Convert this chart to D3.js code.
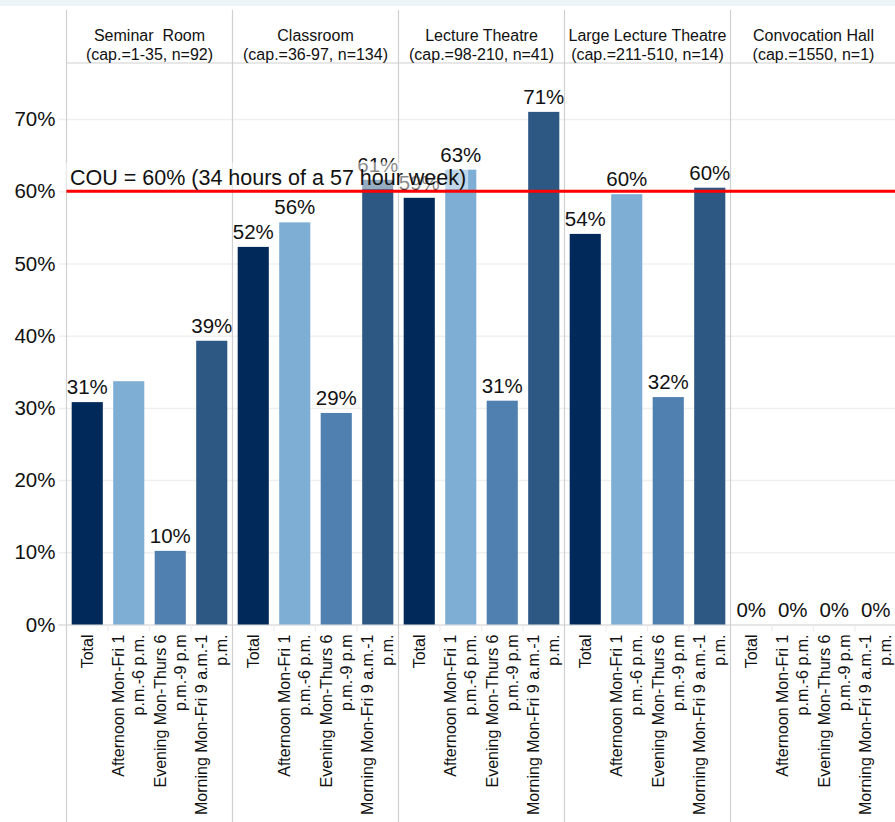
<!DOCTYPE html>
<html>
<head>
<meta charset="utf-8">
<script src="https://cdn.jsdelivr.net/npm/d3@7"></script>
<style>
  body { margin: 0; background: #fff; }
  svg { display: block; font-family: "Liberation Sans", Arial, sans-serif; }
</style>
</head>
<body>
<svg width="895" height="822"></svg>
<script>
// room types (panels)
let rooms = ["Seminar  Room", "Classroom", "Lecture Theatre", "Large Lecture Theatre", "Convocation Hall"]
let roomCaps = ["(cap.=1-35, n=92)", "(cap.=36-97, n=134)", "(cap.=98-210, n=41)", "(cap.=211-510, n=14)", "(cap.=1550, n=1)"]

// time periods (bars inside a panel)
let periods = ["Total", "Afternoon", "Evening", "Morning"]
let periodLabels = [
    ["Total"],
    ["Afternoon Mon-Fri 1", "p.m.-6 p.m."],
    ["Evening Mon-Thurs 6", "p.m.-9 p.m"],
    ["Morning Mon-Fri 9 a.m.-1", "p.m."]
]
let periodColors = ["#012a5b", "#7faed5", "#5080b0", "#2d5884"]

// utilization values, one row per room type
let seminarVals     = [0.308, 0.337, 0.102, 0.393]
let classroomVals   = [0.523, 0.557, 0.293, 0.616]
let lectureVals     = [0.591, 0.630, 0.310, 0.710]
let largeLectVals   = [0.541, 0.596, 0.315, 0.605]
let convocationVals = [0, 0, 0, 0]
let values = [seminarVals, classroomVals, lectureVals, largeLectVals, convocationVals]

// label shown above each bar (null = none shown)
let barLabels = [
    ["31%", null, "10%", "39%"],
    ["52%", "56%", "29%", "61%"],
    ["59%", "63%", "31%", "71%"],
    ["54%", "60%", "32%", "60%"],
    ["0%", "0%", "0%", "0%"]
]

let yTicks = [0, 0.1, 0.2, 0.3, 0.4, 0.5, 0.6, 0.7]
let couValue = 0.6
let couText = "COU = 60% (34 hours of a 57 hour week)"

let width = 895
let height = 822
let left = 66.5
let headerBottom = 63
let baseline = 624.5

let svg = d3.select("svg")

svg.append("rect")
    .attr("x", 0).attr("y", 0)
    .attr("width", width).attr("height", 6)
    .attr("fill", "#eef5f9")

let x0 = d3.scaleBand()
    .domain(rooms)
    .range([left, left + 166 * rooms.length])
    .padding(0)

let x1 = d3.scaleBand()
    .domain(periods)
    .range([0, x0.bandwidth()])
    .paddingInner(0.25)
    .paddingOuter(0.125)

let xTick = d3.scaleBand()
    .domain(periods)
    .range([0, x0.bandwidth()])

let y = d3.scaleLinear()
    .domain([0, 0.7])
    .range([baseline, baseline - 0.7 * 722])

// gridlines + y axis
let yAxis = d3.axisLeft(y)
    .tickValues(yTicks)
    .tickFormat(d3.format(".0%"))
    .tickSize(-(width - left + 8))
    .tickPadding(3)

let yAxisG = svg.append("g")
    .attr("class", "y axis")
    .attr("transform", `translate(${left - 8},0)`)
    .call(yAxis)

yAxisG.select(".domain").remove()
yAxisG.selectAll(".tick line")
    .attr("stroke", d => d == 0 ? "#dcdcdc" : "#f0f0f0")
    .attr("stroke-width", 1.5)
yAxisG.selectAll(".tick text")
    .attr("x", -3)
    .style("font-size", "20.5px")
    .style("fill", "#111")
    .style("font-family", "Liberation Sans, Arial, sans-serif")

// header line + panel separators
svg.append("line")
    .attr("x1", left).attr("x2", width)
    .attr("y1", headerBottom).attr("y2", headerBottom)
    .attr("stroke", "#d0d0d0")
    .attr("stroke-width", 1.2)

svg.selectAll(".sep")
    .data(rooms)
    .join("line")
    .attr("class", "sep")
    .attr("x1", d => x0(d)).attr("x2", d => x0(d))
    .attr("y1", 10).attr("y2", height)
    .attr("stroke", "#d0d0d0")
    .attr("stroke-width", 1.2)

// header text
let header = svg.selectAll(".header")
    .data(rooms)
    .join("text")
    .attr("class", "header")
    .attr("text-anchor", "middle")
    .style("font-size", "16px")
    .style("fill", "#111")

header.append("tspan")
    .attr("x", d => x0(d) + x0.bandwidth() / 2)
    .attr("y", 41)
    .style("white-space", "pre")
    .text(d => d)

header.append("tspan")
    .attr("x", d => x0(d) + x0.bandwidth() / 2)
    .attr("y", 60)
    .text((d, i) => roomCaps[i])

let panels = svg.selectAll(".panel")
    .data(rooms)
    .join("g")
    .attr("class", "panel")
    .attr("transform", d => `translate(${x0(d)},0)`)

// small x ticks between bars
panels.selectAll(".xtick")
    .data(periods.slice(1))
    .join("line")
    .attr("x1", d => xTick(d)).attr("x2", d => xTick(d))
    .attr("y1", baseline).attr("y2", baseline + 7)
    .attr("stroke", "#ececec")
    .attr("stroke-width", 1.2)

// bars
panels.selectAll(".bar")
    .data((room, i) => periods.map((p, j) => ({ period: p, value: values[i][j], color: periodColors[j] })))
    .join("rect")
    .attr("class", "bar")
    .attr("x", d => x1(d.period))
    .attr("width", x1.bandwidth())
    .attr("y", d => y(d.value))
    .attr("height", d => y(0) - y(d.value))
    .attr("fill", d => d.color)

// bar labels
panels.selectAll(".barlabel")
    .data((room, i) => periods.map((p, j) => ({ period: p, value: values[i][j], label: barLabels[i][j] })).filter(d => d.label))
    .join("text")
    .attr("class", "barlabel")
    .attr("x", d => x1(d.period) + x1.bandwidth() / 2)
    .attr("y", d => y(d.value) - 8)
    .attr("text-anchor", "middle")
    .style("font-size", "20.5px")
    .style("fill", "#111")
    .text(d => d.label)

// rotated category labels
let xLabels = panels.selectAll(".xlabel")
    .data(periods.map((p, j) => ({ period: p, lines: periodLabels[j] })))
    .join("text")
    .attr("class", "xlabel")
    .attr("transform", d => `translate(${xTick(d.period) + xTick.bandwidth() / 2},${baseline + 10}) rotate(-90)`)
    .attr("text-anchor", "end")
    .style("font-size", "16px")
    .style("fill", "#111")

xLabels.selectAll("tspan")
    .data(d => d.lines.map((t, k) => ({ t, k, n: d.lines.length })))
    .join("tspan")
    .attr("x", 0)
    .attr("y", d => (d.k - (d.n - 1) / 2) * 20)
    .attr("dy", "0.35em")
    .text(d => d.t)

// COU annotation with semi-transparent white box
let couG = svg.append("g")
let couBox = couG.append("rect")
let couLabel = couG.append("text")
    .attr("x", left + 3.5)
    .attr("y", y(couValue) - 6)
    .style("font-size", "21.5px")
    .style("fill", "#111")
    .text(couText)

let bb = couLabel.node().getBBox()
couBox
    .attr("x", bb.x - 4)
    .attr("y", bb.y - 4)
    .attr("width", bb.width + 6)
    .attr("height", bb.height + 3)
    .attr("fill", "#fff")
    .attr("fill-opacity", 0.5)

svg.append("line")
    .attr("x1", left).attr("x2", width)
    .attr("y1", y(couValue)).attr("y2", y(couValue))
    .attr("stroke", "#ff0000")
    .attr("stroke-width", 3)
</script>
</body>
</html>
